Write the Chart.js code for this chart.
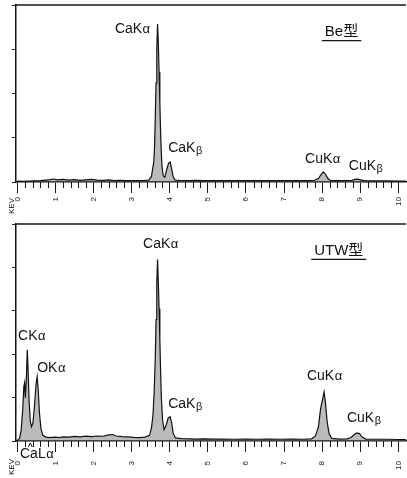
<!DOCTYPE html>
<html lang="ja">
<head>
  <meta charset="UTF-8" />
  <title>EDX spectra - Be / UTW window</title>
  <script src="https://cdn.jsdelivr.net/npm/chart.js@4.4.1/dist/chart.umd.min.js"></script>
  <style>
    body { margin: 0; background: #fff; }
    canvas { position: absolute; left: 0; }
    #beChart { top: 0; }
    #utwChart { top: 220px; }
  </style>
</head>
<body>
  <canvas id="beChart" width="407" height="220"></canvas>
  <canvas id="utwChart" width="407" height="258"></canvas>

  <script>
    // Be window spectrum: energy (keV) and counts
    const beEnergy = [0.00, 0.15, 0.30, 0.45, 0.60, 0.75, 0.85, 0.95, 1.05, 1.20, 1.35, 1.50, 1.65, 1.80, 1.95,
      2.10, 2.25, 2.40, 2.55, 2.70, 2.85, 3.00, 3.15, 3.30, 3.45, 3.52, 3.55, 3.58, 3.60, 3.62, 3.64, 3.66,
      3.68, 3.70, 3.72, 3.74, 3.76, 3.78, 3.80, 3.83, 3.87, 3.92, 3.97, 4.01, 4.05, 4.09, 4.14, 4.30, 4.50,
      4.70, 4.90, 5.20, 5.50, 5.80, 6.10, 6.40, 6.70, 7.00, 7.30, 7.60, 7.80, 7.90, 7.97, 8.03, 8.09, 8.15,
      8.22, 8.40, 8.60, 8.78, 8.86, 8.93, 9.00, 9.10, 9.40, 9.70, 10.00, 10.20];
    const beCounts = [20, 15, 20, 25, 30, 45, 55, 70, 50, 60, 45, 55, 40, 50, 60,
      45, 40, 50, 35, 40, 30, 35, 30, 35, 45, 130, 300, 460, 800, 1500, 2300, 3100,
      3674, 3250, 2550, 1850, 1150, 650, 330, 140, 110, 290, 440, 465, 300, 120, 45, 35, 30,
      40, 30, 35, 30, 35, 30, 35, 30, 30, 35, 30, 40, 80, 170, 235, 180, 80,
      35, 30, 35, 40, 60, 65, 50, 30, 25, 25, 20, 20];

    // UTW window spectrum: energy (keV) and counts
    const utwEnergy = [0.00, 0.06, 0.10, 0.14, 0.17, 0.19, 0.21, 0.24, 0.26, 0.28, 0.31, 0.34, 0.37, 0.41,
      0.45, 0.49, 0.52, 0.55, 0.58, 0.62, 0.67, 0.75, 0.85, 1.00, 1.10, 1.20, 1.35, 1.50, 1.65, 1.80, 1.95,
      2.10, 2.25, 2.40, 2.50, 2.60, 2.75, 2.90, 3.05, 3.20, 3.35, 3.47, 3.52, 3.56, 3.59, 3.62, 3.64, 3.66,
      3.68, 3.70, 3.72, 3.74, 3.76, 3.78, 3.81, 3.85, 3.91, 3.96, 4.01, 4.05, 4.09, 4.15, 4.30, 4.50, 4.70,
      4.90, 5.10, 5.40, 5.70, 6.00, 6.30, 6.60, 6.90, 7.20, 7.50, 7.72, 7.82, 7.90, 7.96, 8.02, 8.05, 8.09,
      8.13, 8.18, 8.25, 8.45, 8.65, 8.76, 8.84, 8.91, 8.98, 9.05, 9.15, 9.40, 9.70, 10.00, 10.20];
    const utwCounts = [20, 60, 250, 700, 1250, 1340, 1000, 1500, 2100, 1700, 900, 450, 330, 420,
      800, 1300, 1480, 1150, 650, 280, 130, 90, 80, 90, 80, 95, 90, 105, 95, 110, 100,
      115, 110, 140, 150, 115, 100, 95, 85, 80, 90, 130, 300, 600, 1100, 1900, 2800, 3650,
      4180, 3650, 3050, 2350, 1600, 1000, 500, 260, 380, 530, 560, 420, 180, 70, 55, 50, 45,
      50, 45, 45, 40, 45, 40, 45, 40, 45, 40, 50, 110, 320, 750, 1000, 1130, 850,
      450, 170, 60, 45, 50, 80, 150, 185, 170, 90, 45, 40, 40, 35, 35];

    // energy axis: labelled every keV, minor marks every 0.2 keV
    const majorKeV = [0, 1, 2, 3, 4, 5, 6, 7, 8, 9, 10];
    const minorPerKeV = 5;

    const FONT = '"Liberation Sans", Arial, "Noto Sans CJK JP", sans-serif';
    const isMajor = v => Math.abs(v - Math.round(v)) < 1e-6;
    const keVTicks = majorKeV.flatMap(k => k === 10 ? [k] :
      Array.from({ length: minorPerKeV }, (_, i) => k + i / minorPerKeV));

    // frame top line, minor x ticks, peak names, panel title and the KEV caption
    const spectrumDecor = {
      id: 'spectrumDecor',
      afterDraw(chart, args, opts) {
        const { ctx, chartArea: a, scales: { x, y } } = chart;
        ctx.save();
        ctx.strokeStyle = '#161616';
        ctx.lineWidth = 1.5;
        ctx.beginPath();
        ctx.moveTo(a.left, a.top);
        ctx.lineTo(a.right, a.top);
        ctx.stroke();

        ctx.lineWidth = 1;
        ctx.beginPath();
        keVTicks.forEach(v => {
          if (isMajor(v)) return;
          const px = Math.round(x.getPixelForValue(v)) + 0.5;
          ctx.moveTo(px, a.bottom);
          ctx.lineTo(px, a.bottom + 6);
        });
        ctx.stroke();

        ctx.fillStyle = '#111';
        ctx.textBaseline = 'alphabetic';
        ctx.textAlign = 'left';
        opts.peaks.forEach(p => {
          let px = x.getPixelForValue(p.keV);
          const py = y.getPixelForValue(p.counts);
          ctx.font = '14px ' + FONT;
          ctx.fillText(p.name, px, py);
          px += ctx.measureText(p.name).width + 0.5;
          if (p.greek === 'β') {
            ctx.font = '11px ' + FONT;
            ctx.fillText(p.greek, px, py + 2);
          } else {
            ctx.font = '13px ' + FONT;
            ctx.fillText(p.greek, px, py);
          }
        });

        if (opts.arrowKeV !== undefined) {
          const ax = x.getPixelForValue(opts.arrowKeV);
          ctx.beginPath();
          ctx.moveTo(ax - 2, a.bottom + 6);
          ctx.lineTo(ax, a.bottom + 2);
          ctx.lineTo(ax + 2, a.bottom + 6);
          ctx.stroke();
        }

        const t = opts.title;
        ctx.font = '15px ' + FONT;
        const tx = x.getPixelForValue(t.keV);
        const ty = y.getPixelForValue(t.counts);
        ctx.fillText(t.text, tx, ty);
        const w = ctx.measureText(t.text).width;
        ctx.lineWidth = 1.3;
        ctx.beginPath();
        ctx.moveTo(tx - 3, ty + 4.5);
        ctx.lineTo(tx + w + 3, ty + 4.5);
        ctx.stroke();

        ctx.font = '8px ' + FONT;
        ctx.translate(14, a.bottom + opts.captionDrop);
        ctx.rotate(-Math.PI / 2);
        ctx.textAlign = 'center';
        ctx.fillText('KEV', 0, 0);
        ctx.restore();
      }
    };

    function spectrumChart(id, energy, counts, yMax, axisHeight, padTop, labelPad, decor) {
      return new Chart(document.getElementById(id), {
        type: 'line',
        data: {
          datasets: [{
            data: energy.map((e, i) => ({ x: e, y: counts[i] })),
            borderColor: '#111',
            borderWidth: 1.2,
            backgroundColor: 'rgba(120,120,120,0.5)',
            fill: 'origin',
            pointRadius: 0,
            tension: 0
          }]
        },
        options: {
          responsive: false,
          animation: false,
          layout: { padding: { top: padTop, right: 1, left: 0, bottom: 0 } },
          plugins: {
            legend: { display: false },
            tooltip: { enabled: false },
            spectrumDecor: decor
          },
          scales: {
            x: {
              type: 'linear',
              bounds: 'data',
              min: -0.035,
              max: 10.2,
              afterBuildTicks: s => { s.ticks = keVTicks.map(v => ({ value: v })); },
              // fixed axis band; rotated end labels must not push the plot inwards
              afterFit: s => {
                s.height = axisHeight;
                s.paddingLeft = 0;
                s.paddingRight = 0;
              },
              ticks: {
                autoSkip: false,
                minRotation: 90,
                maxRotation: 90,
                padding: labelPad,
                color: '#222',
                font: { family: FONT, size: 8 },
                callback: v => isMajor(v) ? String(Math.round(v)) : ''
              },
              grid: {
                drawOnChartArea: false,
                tickLength: 11,
                tickColor: c => (c.tick && isMajor(c.tick.value)) ? '#1a1a1a' : 'rgba(0,0,0,0)'
              },
              border: { color: '#111', width: 1.5 }
            },
            y: {
              min: 0,
              max: yMax,
              afterFit: s => { s.width = 16; s.paddingTop = 0; s.paddingBottom = 0; },
              ticks: { display: false, stepSize: 1000, includeBounds: false },
              grid: { drawOnChartArea: false, tickLength: 4, tickColor: '#222' },
              border: { color: '#111', width: 1.5 }
            }
          }
        },
        plugins: [spectrumDecor]
      });
    }

    spectrumChart('beChart', beEnergy, beCounts, 4116, 38, 5, 4, {
      peaks: [
        { name: 'CaK', greek: 'α', keV: 2.56, counts: 3465 },
        { name: 'CaK', greek: 'β', keV: 3.96, counts: 700 },
        { name: 'CuK', greek: 'α', keV: 7.55, counts: 440 },
        { name: 'CuK', greek: 'β', keV: 8.70, counts: 280 }
      ],
      title: { text: 'Be型', keV: 8.07, counts: 3390 },
      captionDrop: 24
    });

    spectrumChart('utwChart', utwEnergy, utwCounts, 5000, 37, 4, 9, {
      peaks: [
        { name: 'CaK', greek: 'α', keV: 3.30, counts: 4450 },
        { name: 'CK', greek: 'α', keV: 0.02, counts: 2330 },
        { name: 'OK', greek: 'α', keV: 0.52, counts: 1590 },
        { name: 'CaK', greek: 'β', keV: 3.96, counts: 760 },
        { name: 'CuK', greek: 'α', keV: 7.60, counts: 1400 },
        { name: 'CuK', greek: 'β', keV: 8.65, counts: 440 },
        { name: 'CaL', greek: 'α', keV: 0.07, counts: -390 }
      ],
      arrowKeV: 0.34,
      title: { text: 'UTW型', keV: 7.79, counts: 4290 },
      captionDrop: 26
    });
  </script>
</body>
</html>
